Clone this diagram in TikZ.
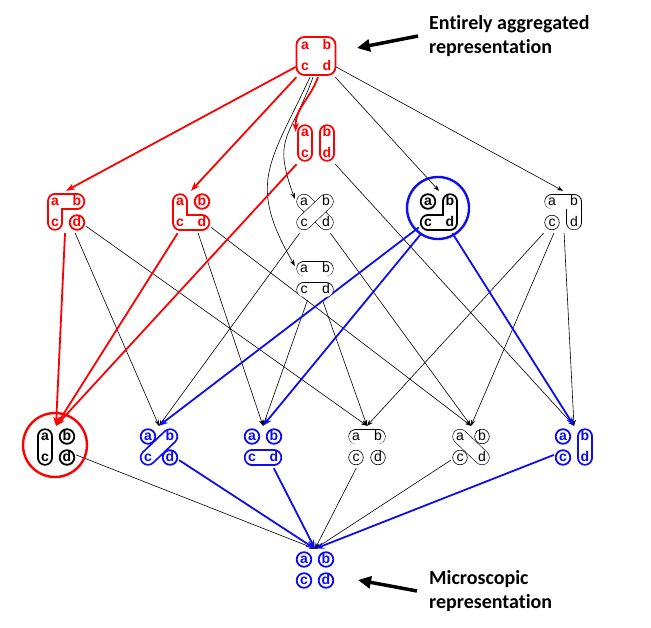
\documentclass[tikz,border=0pt]{standalone}
\usepackage{fontspec}
\newfontfamily\partfont{Liberation Sans}
\newfontfamily\notefont[Ligatures=NoCommon]{Carlito}
\usetikzlibrary{arrows.meta}

\begin{document}
\begin{tikzpicture}[x=1pt, y=-1pt,
  grp/.style={minimum width=40pt, minimum height=42pt, inner sep=0pt},
  thinblk/.style={draw=black, line width=0.6pt, double=white, double distance=14pt, line cap=round, line join=round},
  boldblk/.style={draw=black, line width=1.8pt, double=white, double distance=12.8pt, line cap=round, line join=round},
  redblk/.style={boldblk, draw=aggred},
  blueblk/.style={boldblk, draw=micblue},
  thindot/.style={draw=black, line width=0.6pt, fill=white},
  bolddot/.style={draw=black, line width=1.8pt, fill=white},
  reddot/.style={bolddot, draw=aggred},
  bluedot/.style={bolddot, draw=micblue},
  thinlt/.style={font=\partfont\fontsize{14}{14}\selectfont, inner sep=0pt, text height=8.8pt, text depth=0pt},
  boldlt/.style={thinlt, font=\partfont\bfseries\fontsize{14}{14}\selectfont},
  redlt/.style={boldlt, text=aggred},
  bluelt/.style={boldlt, text=micblue},
  lnk/.style={draw=black, line width=0.6pt, -{Stealth[length=6pt,width=4.5pt]}},
  redlnk/.style={draw=aggred, line width=1.8pt, -{Stealth[length=9pt,width=6.5pt]}},
  bluelnk/.style={redlnk, draw=micblue},
  ring/.style={circle, line width=2.4pt, inner sep=0pt},
  notetxt/.style={font=\notefont\bfseries\fontsize{20}{24}\selectfont, inner sep=0pt, anchor=base west},
  notearrow/.style={line width=3.5pt, -{Triangle[length=13pt,width=12pt]}}]
\definecolor{aggred}{rgb}{1.00000,0.00000,0.00000}
\definecolor{micblue}{rgb}{0.05000,0.05000,0.95000}
\useasboundingbox (0,0) rectangle (651,627);
\fill[white] (0,0) rectangle (651,627);
% partitions, one box per node
\node[grp] (T) at (316,56) {};
\node[grp] (A1) at (66,212) {};
\node[grp] (A2) at (191,212) {};
\node[grp] (A3) at (316,143) {};
\node[grp] (A4) at (315,212) {};
\node[grp] (A5) at (315,279) {};
\node[grp] (A6) at (439,212) {};
\node[grp] (A7) at (563,212) {};
\node[grp] (B1) at (56,447) {};
\node[grp] (B2) at (159,447) {};
\node[grp] (B3) at (263,447) {};
\node[grp] (B4) at (367,447) {};
\node[grp] (B5) at (471,447) {};
\node[grp] (B6) at (574,447) {};
\node[grp] (M) at (315,570) {};
% refinements
\draw[lnk] ([xshift=-3pt]T.south) to[out=250, in=110, looseness=1.4] ([yshift=-8pt]A4.north west);
\draw[lnk] ([xshift=-6pt]T.south) to[out=245, in=120, looseness=1.3] ([yshift=-8pt]A5.north west);
\draw[lnk] (T) -- (A6.north);
\draw[lnk] (T) -- (A7.north);
\draw[lnk] (A1) -- (B2.north);
\draw[lnk] (A1) -- (B4.north);
\draw[lnk] (A2) -- (B3.north);
\draw[lnk] (A2) -- (B5.north);
\draw[lnk] (A3) -- (B6.north);
\draw[lnk] (A4) -- (B2.north);
\draw[lnk] (A4) -- (B5.north);
\draw[lnk] (A5) -- (B3.north);
\draw[lnk] (A5) -- (B4.north);
\draw[lnk] (A7) -- (B4.north);
\draw[lnk] (A7) -- (B5.north);
\draw[lnk] (A7) -- (B6.north);
\draw[lnk] (B1) -- (M.north);
\draw[lnk] (B4) -- (M.north);
\draw[lnk] (B5) -- (M.north);
\draw[redlnk] (T) -- (A1.north);
\draw[redlnk] (T) -- (A2.north);
\draw[redlnk] ([xshift=2pt]T.south) to[out=250, in=92] ([yshift=-10pt]A3.north west);
\draw[redlnk] (A1) -- (B1.north);
\draw[redlnk] (A2) -- (B1.north);
\draw[redlnk] (A3) -- (B1.north);
\draw[bluelnk] (A6) -- (B2.north);
\draw[bluelnk] (A6) -- (B3.north);
\draw[bluelnk] (A6) -- (B6.north);
\draw[bluelnk] (B2) -- (M.north);
\draw[bluelnk] (B3) -- (M.north);
\draw[bluelnk] (B6) -- (M.north);
% blocks
\draw[draw=aggred, line width=1.8pt, rounded corners=8pt, fill=white] (296.5,37) rectangle (335.5,75);
\draw[redblk] (77,201.5) -- (55,201.5) -- (55,222.5);
\draw[reddot] (77,222.5) circle (7.3);
\draw[redblk] (180,201.5) -- (180,222.5) -- (202,222.5);
\draw[reddot] (202,201.5) circle (7.3);
\draw[redblk] (305,132.5) -- (305,153.5);
\draw[redblk] (327,132.5) -- (327,153.5);
\draw[thinblk] (304,201.5) -- (326,222.5);
\draw[thinblk] (326,201.5) -- (304,222.5);
\draw[thinblk] (304,268.5) -- (326,268.5);
\draw[thinblk] (304,289.5) -- (326,289.5);
\draw[boldblk] (450,201.5) -- (450,222.5) -- (428,222.5);
\draw[bolddot] (428,201.5) circle (7.3);
\draw[thinblk] (552,201.5) -- (574,201.5) -- (574,222.5);
\draw[thindot] (552,222.5) circle (7.3);
\draw[boldblk] (45,436.5) -- (45,457.5);
\draw[bolddot] (67,436.5) circle (7.3);
\draw[bolddot] (67,457.5) circle (7.3);
\draw[blueblk] (170,436.5) -- (148,457.5);
\draw[bluedot] (148,436.5) circle (7.3);
\draw[bluedot] (170,457.5) circle (7.3);
\draw[bluedot] (252,436.5) circle (7.3);
\draw[bluedot] (274,436.5) circle (7.3);
\draw[blueblk] (252,457.5) -- (274,457.5);
\draw[thinblk] (356,436.5) -- (378,436.5);
\draw[thindot] (356,457.5) circle (7.3);
\draw[thindot] (378,457.5) circle (7.3);
\draw[thinblk] (460,436.5) -- (482,457.5);
\draw[thindot] (482,436.5) circle (7.3);
\draw[thindot] (460,457.5) circle (7.3);
\draw[bluedot] (563,436.5) circle (7.3);
\draw[bluedot] (563,457.5) circle (7.3);
\draw[blueblk] (585,436.5) -- (585,457.5);
\draw[bluedot] (304,559.5) circle (7.3);
\draw[bluedot] (326,559.5) circle (7.3);
\draw[bluedot] (304,580.5) circle (7.3);
\draw[bluedot] (326,580.5) circle (7.3);
% elements
\node[redlt] (Ta) at (305,45.5) {a};
\node[redlt] (Tb) at (327,45.5) {b};
\node[redlt] (Tc) at (305,66.5) {c};
\node[redlt] (Td) at (327,66.5) {d};
\node[redlt] (A1a) at (55,201.5) {a};
\node[redlt] (A1b) at (77,201.5) {b};
\node[redlt] (A1c) at (55,222.5) {c};
\node[redlt] (A1d) at (77,222.5) {d};
\node[redlt] (A2a) at (180,201.5) {a};
\node[redlt] (A2b) at (202,201.5) {b};
\node[redlt] (A2c) at (180,222.5) {c};
\node[redlt] (A2d) at (202,222.5) {d};
\node[redlt] (A3a) at (305,132.5) {a};
\node[redlt] (A3b) at (327,132.5) {b};
\node[redlt] (A3c) at (305,153.5) {c};
\node[redlt] (A3d) at (327,153.5) {d};
\node[thinlt] (A4a) at (304,201.5) {a};
\node[thinlt] (A4b) at (326,201.5) {b};
\node[thinlt] (A4c) at (304,222.5) {c};
\node[thinlt] (A4d) at (326,222.5) {d};
\node[thinlt] (A5a) at (304,268.5) {a};
\node[thinlt] (A5b) at (326,268.5) {b};
\node[thinlt] (A5c) at (304,289.5) {c};
\node[thinlt] (A5d) at (326,289.5) {d};
\node[boldlt] (A6a) at (428,201.5) {a};
\node[boldlt] (A6b) at (450,201.5) {b};
\node[boldlt] (A6c) at (428,222.5) {c};
\node[boldlt] (A6d) at (450,222.5) {d};
\node[thinlt] (A7a) at (552,201.5) {a};
\node[thinlt] (A7b) at (574,201.5) {b};
\node[thinlt] (A7c) at (552,222.5) {c};
\node[thinlt] (A7d) at (574,222.5) {d};
\node[boldlt] (B1a) at (45,436.5) {a};
\node[boldlt] (B1b) at (67,436.5) {b};
\node[boldlt] (B1c) at (45,457.5) {c};
\node[boldlt] (B1d) at (67,457.5) {d};
\node[bluelt] (B2a) at (148,436.5) {a};
\node[bluelt] (B2b) at (170,436.5) {b};
\node[bluelt] (B2c) at (148,457.5) {c};
\node[bluelt] (B2d) at (170,457.5) {d};
\node[bluelt] (B3a) at (252,436.5) {a};
\node[bluelt] (B3b) at (274,436.5) {b};
\node[bluelt] (B3c) at (252,457.5) {c};
\node[bluelt] (B3d) at (274,457.5) {d};
\node[thinlt] (B4a) at (356,436.5) {a};
\node[thinlt] (B4b) at (378,436.5) {b};
\node[thinlt] (B4c) at (356,457.5) {c};
\node[thinlt] (B4d) at (378,457.5) {d};
\node[thinlt] (B5a) at (460,436.5) {a};
\node[thinlt] (B5b) at (482,436.5) {b};
\node[thinlt] (B5c) at (460,457.5) {c};
\node[thinlt] (B5d) at (482,457.5) {d};
\node[bluelt] (B6a) at (563,436.5) {a};
\node[bluelt] (B6b) at (585,436.5) {b};
\node[bluelt] (B6c) at (563,457.5) {c};
\node[bluelt] (B6d) at (585,457.5) {d};
\node[bluelt] (Ma) at (304,559.5) {a};
\node[bluelt] (Mb) at (326,559.5) {b};
\node[bluelt] (Mc) at (304,580.5) {c};
\node[bluelt] (Md) at (326,580.5) {d};
% highlighted partitions
\node[ring, draw=micblue, minimum size=62pt] (A6ring) at (438,208) {};
\node[ring, draw=aggred, minimum size=64pt] (B1ring) at (55,445) {};
% notes
\node[notetxt] (aggLbl1) at (429,29) {Entirely aggregated};
\node[notetxt] (aggLbl2) at (429,53) {representation};
\node[notetxt] (micLbl1) at (429,584) {Microscopic};
\node[notetxt] (micLbl2) at (429,608) {representation};
\coordinate (aggTip) at (357,48);
\coordinate (micTip) at (358,580);
\draw[notearrow] ([shift={(-11,7)}]aggLbl1.base west) -- (aggTip);
\draw[notearrow] ([shift={(-12,7)}]micLbl1.base west) -- (micTip);
\end{tikzpicture}
\end{document}
